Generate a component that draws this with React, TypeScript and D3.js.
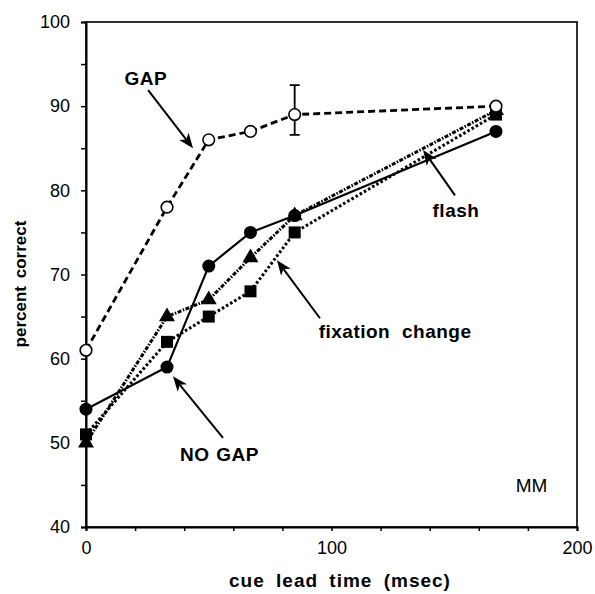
import React, { useEffect, useRef } from 'react';
import * as d3 from 'd3';

// cue lead time (msec)
const leadTimes = [0, 33, 50, 67, 85, 167];
const gapValues = [61, 78, 86, 87, 89, 90];
const noGapValues = [54, 59, 71, 75, 77, 87];
const flashValues = [50, 65, 67, 72, 77, 89.5];
const fixationValues = [51, 62, 65, 68, 75, 89];
// error bar on the GAP point at 85 msec
const gapError = { x: 85, lo: 86.6, hi: 92.5 };

const xTicks = [0, 100, 200];
const yTicks = [40, 50, 60, 70, 80, 90, 100];

// annotations in data units: label position and arrow (from -> tip)
const notes = [
  { text: 'GAP', tx: 24.4, ty: 92.5, ax: [25.3, 91.9], at: [43.6, 85.0], ws: 0 },
  { text: 'NO GAP', tx: 54.4, ty: 47.8, ax: [55.8, 50.6], at: [35.4, 57.9], ws: 1 },
  { text: 'flash', tx: 150.7, ty: 76.8, ax: [150.3, 79.4], at: [137.3, 84.8], ws: 0 },
  { text: 'fixation change', tx: 125.9, ty: 62.5, ax: [95.3, 64.8], at: [77.8, 71.7], ws: 6 },
];

const FONT = '"Liberation Sans", Arial, Helvetica, sans-serif';

export default function App() {
  const ref = useRef<SVGSVGElement>(null);

  useEffect(() => {
    const svg = d3.select(ref.current);
    svg.selectAll('*').remove();

    const x = d3.scaleLinear().domain([0, 200]).range([86, 577]);
    const y = d3.scaleLinear().domain([40, 100]).range([527, 22]);

    // frame
    svg.append('rect')
      .attr('x', x(0)).attr('y', y(100))
      .attr('width', x(200) - x(0)).attr('height', y(40) - y(100))
      .attr('fill', 'none').attr('stroke', '#000').attr('stroke-width', 1.6);

    // axes
    const xAxis = d3.axisBottom(x)
      .tickValues(d3.range(0, 201, 20))
      .tickSize(4)
      .tickFormat(d => (xTicks.includes(+d) ? String(d) : ''));
    const gx = svg.append('g')
      .attr('transform', `translate(0,${y(40)})`)
      .call(xAxis);
    gx.select('.domain').attr('stroke-width', 2);
    gx.selectAll('line').attr('stroke-width', 1.5);
    gx.selectAll('text')
      .attr('font-family', FONT).attr('font-size', 18).attr('fill', '#000')
      .attr('dy', '1.1em');

    const yAxis = d3.axisLeft(y)
      .tickValues(d3.range(40, 101, 5))
      .tickSize(5)
      .tickFormat(d => (yTicks.includes(+d) ? String(d) : ''));
    const gy = svg.append('g')
      .attr('transform', `translate(${x(0)},0)`)
      .call(yAxis);
    gy.select('.domain').attr('stroke-width', 2);
    gy.selectAll('line').attr('stroke-width', 1.5);
    gy.selectAll('text')
      .attr('font-family', FONT).attr('font-size', 18).attr('fill', '#000')
      .attr('x', -16);

    // axis titles
    svg.append('text')
      .attr('x', 340).attr('y', 587)
      .attr('text-anchor', 'middle')
      .attr('font-family', FONT).attr('font-weight', 'bold').attr('font-size', 19)
      .attr('letter-spacing', 1).attr('word-spacing', 5)
      .text('cue lead time (msec)');
    svg.append('text')
      .attr('transform', 'translate(26,284) rotate(-90)')
      .attr('text-anchor', 'middle')
      .attr('font-family', FONT).attr('font-weight', 'bold').attr('font-size', 17)
      .attr('word-spacing', 3)
      .text('percent correct');

    const line = d3.line<number>()
      .x((_, i) => x(leadTimes[i]))
      .y(d => y(d));

    const series = [
      { vals: fixationValues, dash: '2.6,2.2', width: 3 },
      { vals: flashValues, dash: '4,1.5,1.5,1.5', width: 3 },
      { vals: noGapValues, dash: null, width: 2.2 },
      { vals: gapValues, dash: '7,4', width: 2.8 },
    ];
    series.forEach(s => {
      svg.append('path')
        .datum(s.vals)
        .attr('d', line)
        .attr('fill', 'none')
        .attr('stroke', '#000')
        .attr('stroke-width', s.width)
        .attr('stroke-dasharray', s.dash);
    });

    // error bar
    const ex = x(gapError.x);
    svg.append('path')
      .attr('d', `M${ex},${y(gapError.lo)}V${y(gapError.hi)}M${ex - 5},${y(gapError.lo)}H${ex + 5}M${ex - 5},${y(gapError.hi)}H${ex + 5}`)
      .attr('stroke', '#000').attr('stroke-width', 1.8).attr('fill', 'none');

    // markers
    svg.selectAll('.sq').data(fixationValues).enter().append('rect')
      .attr('x', (_, i) => x(leadTimes[i]) - 6)
      .attr('y', d => y(d) - 6)
      .attr('width', 12).attr('height', 12).attr('fill', '#000');

    const tri = d3.symbol().type(d3.symbolTriangle).size(110);
    svg.selectAll('.tri').data(flashValues).enter().append('path')
      .attr('d', tri)
      .attr('transform', (d, i) => `translate(${x(leadTimes[i])},${y(d)})`)
      .attr('fill', '#000');

    svg.selectAll('.fc').data(noGapValues).enter().append('circle')
      .attr('cx', (_, i) => x(leadTimes[i]))
      .attr('cy', d => y(d))
      .attr('r', 6.5).attr('fill', '#000');

    svg.selectAll('.oc').data(gapValues).enter().append('circle')
      .attr('cx', (_, i) => x(leadTimes[i]))
      .attr('cy', d => y(d))
      .attr('r', 5.8).attr('fill', '#fff').attr('stroke', '#000').attr('stroke-width', 1.6);

    // annotations
    notes.forEach(n => {
      svg.append('text')
        .attr('x', x(n.tx)).attr('y', y(n.ty))
        .attr('text-anchor', 'middle')
        .attr('font-family', FONT).attr('font-weight', 'bold').attr('font-size', 19)
        .attr('letter-spacing', 0.5)
        .attr('word-spacing', n.ws)
        .text(n.text);
      const x0 = x(n.ax[0]), y0 = y(n.ax[1]);
      const x1 = x(n.at[0]), y1 = y(n.at[1]);
      const ang = Math.atan2(y1 - y0, x1 - x0);
      const len = 15, half = 6, notch = 11;
      const bx = x1 - len * Math.cos(ang), by = y1 - len * Math.sin(ang);
      const nx = x1 - notch * Math.cos(ang), ny = y1 - notch * Math.sin(ang);
      const px = -Math.sin(ang) * half, py = Math.cos(ang) * half;
      svg.append('line')
        .attr('x1', x0).attr('y1', y0).attr('x2', nx).attr('y2', ny)
        .attr('stroke', '#000').attr('stroke-width', 2);
      svg.append('path')
        .attr('d', `M${x1},${y1}L${bx + px},${by + py}L${nx},${ny}L${bx - px},${by - py}Z`)
        .attr('fill', '#000');
    });

    svg.append('text')
      .attr('x', x(181.5)).attr('y', y(44.2))
      .attr('text-anchor', 'middle')
      .attr('font-family', FONT).attr('font-size', 19)
      .text('MM');
  }, []);

  return (
    <div style={{ position: 'absolute', left: 0, top: 0 }}>
      <svg ref={ref} width={595} height={594} style={{ display: 'block', background: '#fff' }} />
    </div>
  );
}
